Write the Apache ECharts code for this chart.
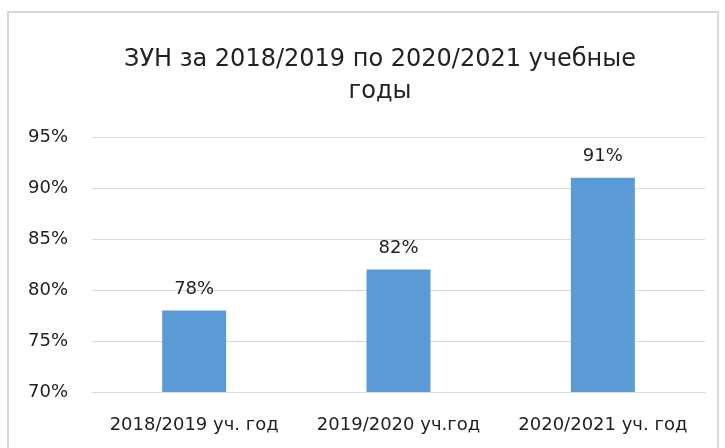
<!DOCTYPE html>
<html>
<head>
<meta charset="utf-8">
<script src="https://cdn.jsdelivr.net/npm/echarts@6/dist/echarts.min.js"></script>
<style>
  html, body {
    margin: 0;
    padding: 0;
    background: #fff;
  }
  #frame {
    position: absolute;
    left: 7px;
    top: 11px;
    width: 712px;
    height: 440px;
    border: 2px solid #d9d9d9;
    box-sizing: border-box;
  }
  #chart {
    position: absolute;
    left: 0;
    top: 0;
    width: 725px;
    height: 448px;
  }
</style>
</head>
<body>
<div id="frame"></div>
<div id="chart"></div>
<script>
  const titleText = 'ЗУН за 2018/2019 по 2020/2021 учебные\nгоды';
  const categories = ['2018/2019 уч. год', '2019/2020 уч.год', '2020/2021 уч. год'];
  const values = [78, 82, 91];
  const yMin = 70;
  const yMax = 95;
  const yStep = 5;

  const chart = echarts.init(document.getElementById('chart'), null, {renderer: 'canvas'});
  const font = '"DejaVu Sans", "Noto Sans", sans-serif';

  chart.setOption({
    animation: false,
    title: {
      text: titleText,
      left: 375,
      top: 39,
      textAlign: 'center',
      textStyle: {
        fontFamily: font,
        fontSize: 24,
        fontWeight: 'normal',
        color: '#222',
        lineHeight: 32
      }
    },
    grid: {
      left: 92,
      right: 20,
      top: 137,
      bottom: 56,
      containLabel: false
    },
    xAxis: {
      type: 'category',
      data: categories,
      axisLine: {lineStyle: {color: '#d9d9d9', width: 1}},
      axisTick: {show: false},
      axisLabel: {
        interval: 0,
        hideOverlap: false,
        fontFamily: font,
        fontSize: 18,
        color: '#222',
        margin: 24
      }
    },
    yAxis: {
      type: 'value',
      min: yMin,
      max: yMax,
      interval: yStep,
      axisLine: {show: false},
      axisTick: {show: false},
      splitLine: {lineStyle: {color: '#d9d9d9', width: 1}},
      axisLabel: {
        formatter: '{value}%',
        fontFamily: font,
        fontSize: 18,
        color: '#222',
        margin: 24
      }
    },
    series: [
      {
        type: 'bar',
        data: values,
        barWidth: 64,
        itemStyle: {color: '#5b9bd5'},
        label: {
          show: true,
          position: 'top',
          distance: 12,
          formatter: '{c}%',
          fontFamily: font,
          fontSize: 18,
          color: '#222'
        }
      }
    ]
  });
</script>
</body>
</html>
